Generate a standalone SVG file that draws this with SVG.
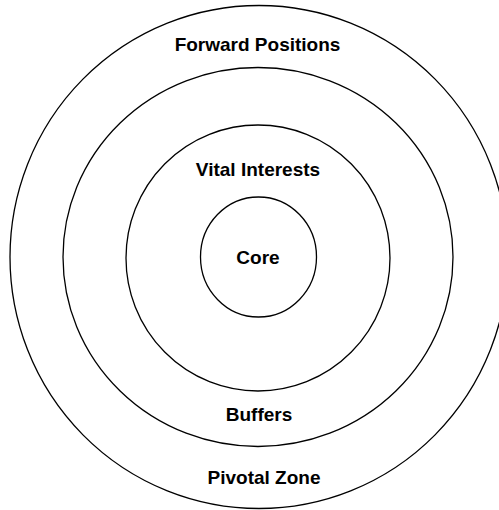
<svg xmlns="http://www.w3.org/2000/svg" width="499" height="510" viewBox="0 0 499 510">
<style>
.ring{fill:none;stroke:#000;stroke-width:1.3}
.lbl{font-family:"Liberation Sans",Arial,sans-serif;font-weight:bold;font-size:19px;fill:#000;text-anchor:middle}
</style>
<rect width="499" height="510" fill="#fff"/>
<g id="pivotal-zone">
<ellipse class="ring" cx="259" cy="257" rx="249" ry="251.5"/>
<text class="lbl" x="264" y="484">Pivotal Zone</text>
</g>
<g id="forward-positions">
<text class="lbl" x="257.5" y="51">Forward Positions</text>
</g>
<g id="buffers">
<ellipse class="ring" cx="258" cy="257" rx="195" ry="189.5"/>
<text class="lbl" x="259" y="420.5">Buffers</text>
</g>
<g id="vital-interests">
<ellipse class="ring" cx="258" cy="258" rx="132" ry="133"/>
<text class="lbl" x="258" y="176">Vital Interests</text>
</g>
<g id="core">
<ellipse class="ring" cx="258.5" cy="257" rx="58" ry="60"/>
<text class="lbl" x="258" y="264">Core</text>
</g>
<g id="connectors"/>
</svg>
